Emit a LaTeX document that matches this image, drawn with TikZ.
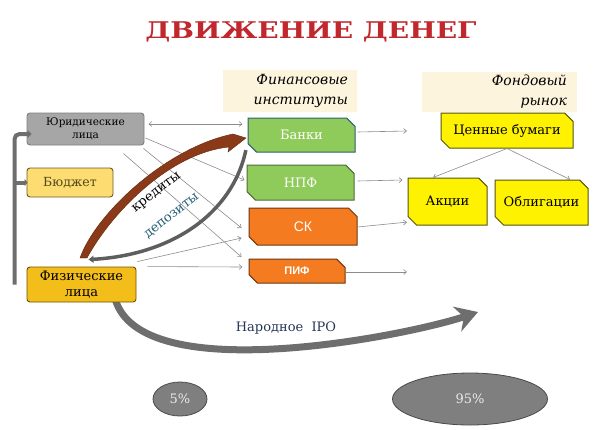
\documentclass[tikz,border=0pt]{standalone}
\usepackage{fontspec}
\setmainfont{DejaVu Serif}
\setsansfont{Liberation Sans}
\usetikzlibrary{arrows.meta, positioning, shapes.misc, shapes.geometric, calc, backgrounds}

\definecolor{titlered}{HTML}{C0282D}
\definecolor{jurgray}{HTML}{A6A6A6}
\definecolor{jurborder}{HTML}{7F7F7F}
\definecolor{budgetfill}{HTML}{FDDC72}
\definecolor{budgetborder}{HTML}{6E5A1E}
\definecolor{budgettext}{HTML}{4F4A1A}
\definecolor{fizfill}{HTML}{F4BE1A}
\definecolor{fizborder}{HTML}{6B5500}
\definecolor{labelbg}{HTML}{FCF4DC}
\definecolor{bankgreen}{HTML}{8FCB5A}
\definecolor{bankborder}{HTML}{2F5F70}
\definecolor{npfborder}{HTML}{52693A}
\definecolor{skgreen}{HTML}{92D050}
\definecolor{orangefill}{HTML}{F47B20}
\definecolor{orangeborder}{HTML}{6F3712}
\definecolor{yellowborder}{HTML}{55550F}
\definecolor{creditbrown}{HTML}{8A3A18}
\definecolor{depogray}{HTML}{5E5E5E}
\definecolor{ipogray}{HTML}{6E6E6E}
\definecolor{ovalfill}{HTML}{7F7F7F}
\definecolor{ovalborder}{HTML}{4A4A4A}
\definecolor{ipotext}{HTML}{243656}
\definecolor{depotext}{HTML}{235E73}
\definecolor{linegray}{HTML}{8C8C8C}

\newcommand{\fsz}[1]{\fontsize{#1}{1.2\dimexpr#1pt\relax}\selectfont}

\tikzset{
  box/.style={draw, line width=0.9pt, rounded corners=3pt, align=center, inner sep=1pt},
  snipbox/.style={chamfered rectangle, chamfered rectangle corners={north east, south west},
    chamfered rectangle xsep=5pt, draw, line width=1pt, align=center, inner sep=1pt},
  tag/.style={fill=labelbg, align=right, inner sep=0pt, font=\itshape\fontsize{14}{20}\selectfont},
  flow/.style={draw=linegray, line width=0.6pt, -{Straight Barb[length=3pt,width=5pt]}},
  oval/.style={ellipse, fill=ovalfill, draw=ovalborder, line width=0.8pt, text=white!92!black, font=\fsz{13}},
}

\begin{document}
\begin{tikzpicture}[x=1pt, y=-1pt]
    \useasboundingbox (0,0) rectangle (604,429);

    % Title
    \node[text=titlered, font=\bfseries\fsz{23}, xscale=1.22] (title) at (311,32) {ДВИЖЕНИЕ ДЕНЕГ};

    % Left column
    \node[box, fill=jurgray, draw=jurborder, minimum width=117pt, minimum height=32pt,
          font=\fsz{10.5}] (jur) at (85.5,129) {Юридические\\лица};
    \node[box, fill=budgetfill, draw=budgetborder, text=budgettext, minimum width=86pt,
          minimum height=29pt, font=\fsz{12.5}] (budget) at (70,182.5) {Бюджет};
    \node[box, fill=fizfill, draw=fizborder, minimum width=109pt, minimum height=35pt,
          font=\fsz{13}] (fiz) at (81.5,284.5) {Физические\\лица};

    % Financial institutions
    \node[tag, minimum width=134pt, minimum height=42pt, text width=116pt] (fin) at (290,91) {Финансовые\\институты};
    \node[snipbox, fill=bankgreen, draw=bankborder, text=white, minimum width=107pt,
          minimum height=34pt, font=\fsz{13}] (bank) at (301.5,135) {Банки};
    \node[snipbox, fill=bankgreen, draw=npfborder, text=white, minimum width=107pt,
          minimum height=35pt, font=\fsz{13}] (npf) at (300.5,182.5) {НПФ};
    \node[snipbox, fill=orangefill, draw=orangeborder, text=white, minimum width=108pt,
          minimum height=37pt, font=\sffamily\fsz{14}] (sk) at (303,226.5) {СК};
    \node[snipbox, fill=orangefill, draw=orangeborder, text=white, minimum width=96pt,
          minimum height=24pt, font=\sffamily\bfseries\fsz{11}] (pif) at (297,271) {ПИФ};

    % Stock market
    \node[tag, minimum width=155pt, minimum height=40pt, text width=135pt] (fond) at (499.5,92) {Фондовый\\рынок};
    \node[snipbox, fill=yellow, draw=yellowborder, minimum width=132pt, minimum height=35pt,
          font=\fsz{13}] (cb) at (507,130.5) {Ценные бумаги};
    \node[snipbox, fill=yellow, draw=yellowborder, minimum width=79pt, minimum height=47pt,
          font=\fsz{13}] (akcii) at (447.5,201.5) {Акции};
    \node[snipbox, fill=yellow, draw=yellowborder, minimum width=93pt, minimum height=45pt,
          font=\fsz{13}] (oblig) at (541.5,202.5) {Облигации};

    % Shares
    \node[oval, minimum width=54pt, minimum height=34pt] (five) at (180,399) {5\%};
    \node[oval, minimum width=155pt, minimum height=52pt] (ninetyfive) at (470,399) {95\%};

    % Thin arrows, left
    \draw[flow, {Straight Barb[length=3pt,width=5pt]}-{Straight Barb[length=3pt,width=5pt]}]
        ($(jur.east)+(4,-5)$) -- ($(bank.west)+(-5,-11)$);
    \draw[flow] ($(jur.east)+(1,9)$) -- ($(npf.west)+(-2,-2.5)$);
    \draw[flow] ($(jur.south east)+(-1,3)$) -- ($(sk.west)+(-7,1.5)$);
    \draw[flow] ($(jur.south east)+(-21,8)$) -- ($(pif.west)+(-7,-14)$);
    \draw[flow] ($(fiz.north east)+(1,-5)$) -- ($(sk.west)+(-7,11.5)$);
    \draw[flow] ($(fiz.north east)+(11,0)$) -- ($(pif.west)+(-6,-4)$);

    % Thin arrows, right
    \coordinate (bankend) at (407,131);
    \coordinate (pifend) at (407,272);
    \draw[flow] ($(bank.east)+(2,-3)$) -- (bankend);
    \draw[flow] ($(npf.east)+(3,-1.5)$) -- ($(akcii.west)+(-5,-21.5)$);
    \draw[flow] ($(sk.east)+(0,0.5)$) -- ($(akcii.south west)+(-5,1)$);
    \draw[flow] ($(pif.east)+(0,1)$) -- (pifend);
    \draw[flow] (cb.south) -- ($(akcii.north)+(-14.5,0)$);
    \draw[flow] (cb.south) -- ($(oblig.north)+(28.5,0)$);

    % Pipe from individuals
    \draw[ipogray, line width=4pt, rounded corners=5pt, -{Triangle[length=4pt,width=8pt]}]
        ($(fiz.west)+(-12,0)$) |- ($(jur.west)+(5,5)$);
    \draw[ipogray, line width=4pt, -{Triangle[length=3pt,width=7pt]}]
        ($(budget.west)+(-12,0)$) -- ($(budget.west)+(1,0)$);

    % Credits and deposits
    \fill[creditbrown, draw=creditbrown!70!black, line width=0.4pt]
        (80,258) .. controls (95,215) and (165,148) .. (233,134) -- (246,138) -- (228,152)
        -- (229,147) .. controls (170,153) and (112,212) .. (87,258) -- cycle;
    \draw[depogray, line width=3.5pt, -{Triangle[length=5pt,width=7pt]}]
        ($(bank.south west)+(-6,2)$) .. controls (232,215) and (170,255) .. ($(fiz.north west)+(62,-7)$);
    \node[rotate=38, font=\fsz{13}] (credlbl) at (157,193) {кредиты};
    \node[rotate=38, text=depotext, font=\fsz{13}] (depolbl) at (172,216) {депозиты};

    % People's IPO, under the boxes
    \begin{scope}[on background layer]
        \fill[skgreen] (sk.south west) rectangle (sk.north east);
        \draw[ipogray, line width=7pt, -{Stealth[length=22pt,width=26pt]}]
            ($(fiz.south)+(33.5,-4)$) .. controls (140,390) and (410,335) .. (478,312);
    \end{scope}
    \node[text=ipotext, font=\fsz{13}] (ipo) at (286,328) {Народное~~IPO};
\end{tikzpicture}
\end{document}
